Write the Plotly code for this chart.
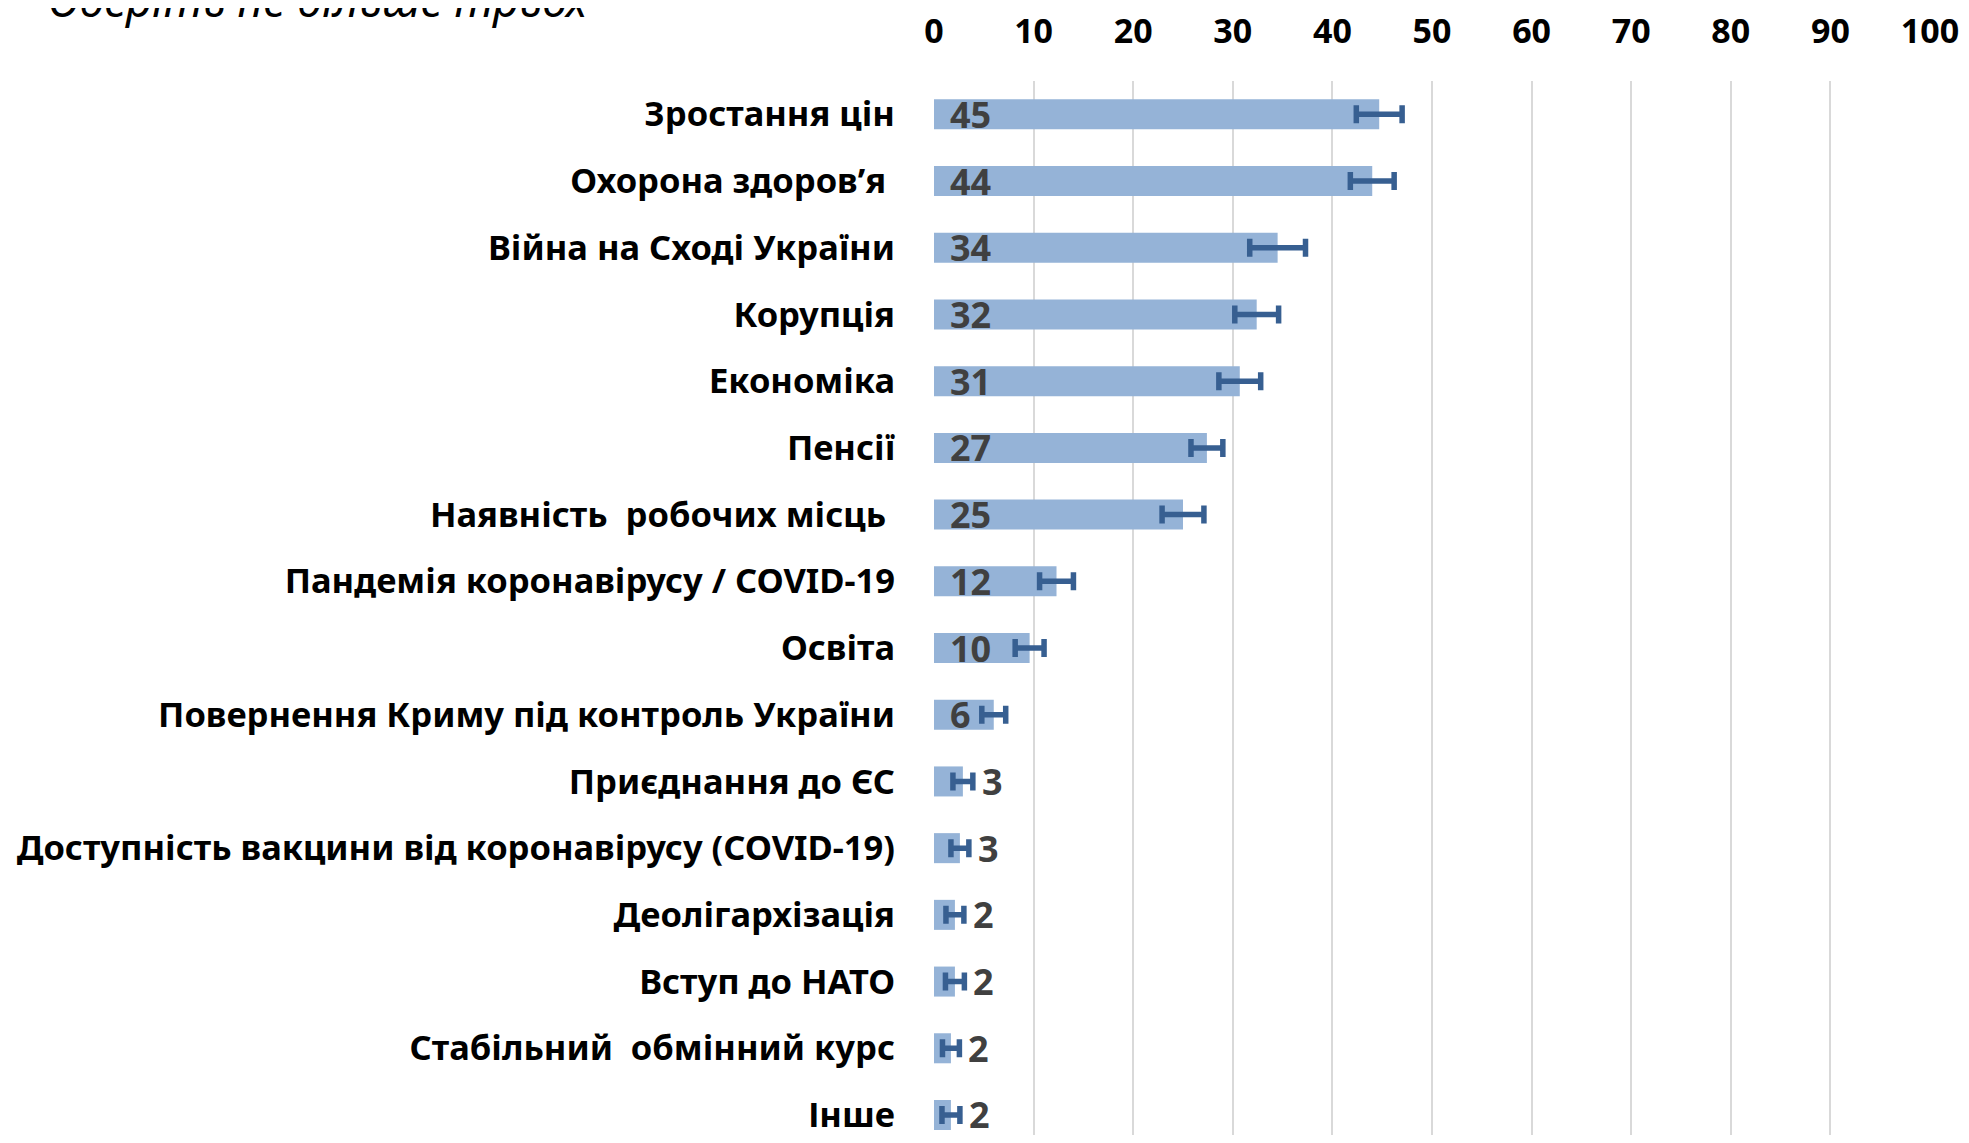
import plotly.graph_objects as go

# categories, top to bottom
categories = [
    "Зростання цін",
    "Охорона здоров’я\u00a0",
    "Війна на Сході України",
    "Корупція",
    "Економіка",
    "Пенсії",
    "Наявність  робочих місць\u00a0",
    "Пандемія коронавірусу / COVID-19",
    "Освіта",
    "Повернення Криму під контроль України",
    "Приєднання до ЄС",
    "Доступність вакцини від коронавірусу (COVID-19)",
    "Деолігархізація",
    "Вступ до НАТО",
    "Стабільний  обмінний курс",
    "Інше",
]
values = [44.7, 44.0, 34.5, 32.4, 30.7, 27.4, 25.0, 12.3, 9.6, 6.0, 2.9, 2.6, 2.1, 2.1, 1.7, 1.7]
errors = [2.3, 2.2, 2.8, 2.2, 2.1, 1.6, 2.1, 1.7, 1.45, 1.2, 1.0, 0.9, 0.9, 0.95, 0.85, 0.9]
value_labels = ["45", "44", "34", "32", "31", "27", "25", "12", "10", "6", "3", "3", "2", "2", "2", "2"]
x_ticks = [0, 10, 20, 30, 40, 50, 60, 70, 80, 90, 100]

FONT = "Noto Sans, sans-serif"

fig = go.Figure()
fig.add_trace(go.Bar(
    x=values,
    y=categories,
    orientation="h",
    marker=dict(color="#95b3d7", line=dict(width=0)),
    error_x=dict(type="data", array=errors, visible=True,
                 color="#375f91", thickness=5.5, width=9),
    hoverinfo="skip",
))

# value labels: inside the bar for long bars, after the error bar for short ones
for cat, v, e, lab in zip(categories, values, errors, value_labels):
    if v >= 5:
        fig.add_annotation(x=0, y=cat, text=lab, showarrow=False,
                           xanchor="left", xshift=14,
                           font=dict(family=FONT, size=36, color="#404040", weight="bold"))
    else:
        fig.add_annotation(x=v + e, y=cat, text=lab, showarrow=False,
                           xanchor="left", xshift=7,
                           font=dict(family=FONT, size=36, color="#404040", weight="bold"))

# cut-off question note at the very top
fig.add_annotation(xref="paper", yref="paper", x=-0.8916, y=1, yshift=49,
                   xanchor="left", yanchor="bottom", showarrow=False,
                   text="<i>Оберіть не більше трьох</i>",
                   font=dict(family=FONT, size=45, color="#000000"))

# page body adds an 8px margin, so the figure is a bit smaller than the window
fig.update_layout(
    width=1953,
    height=1127,
    margin=dict(l=926, r=31, t=73, b=0),
    plot_bgcolor="white",
    paper_bgcolor="white",
    bargap=0.55,
    showlegend=False,
    font=dict(family=FONT, color="#000000"),
    xaxis=dict(
        side="top",
        range=[0, 100],
        tickvals=x_ticks,
        showgrid=True,
        gridcolor="#d9d9d9",
        gridwidth=1.5,
        zeroline=False,
        showline=False,
        ticks="",
        automargin=False,
        ticklabelstandoff=30,
        tickfont=dict(family=FONT, size=34, color="#000000", weight="bold"),
    ),
    yaxis=dict(
        type="category",
        categoryorder="array",
        categoryarray=categories,
        range=[15.30, -0.5],
        showgrid=False,
        zeroline=False,
        showline=False,
        ticks="",
        automargin=False,
        ticklabelstandoff=38,
        tickfont=dict(family=FONT, size=34.5, color="#000000", weight="bold"),
    ),
)

fig.write_html("out.html")
